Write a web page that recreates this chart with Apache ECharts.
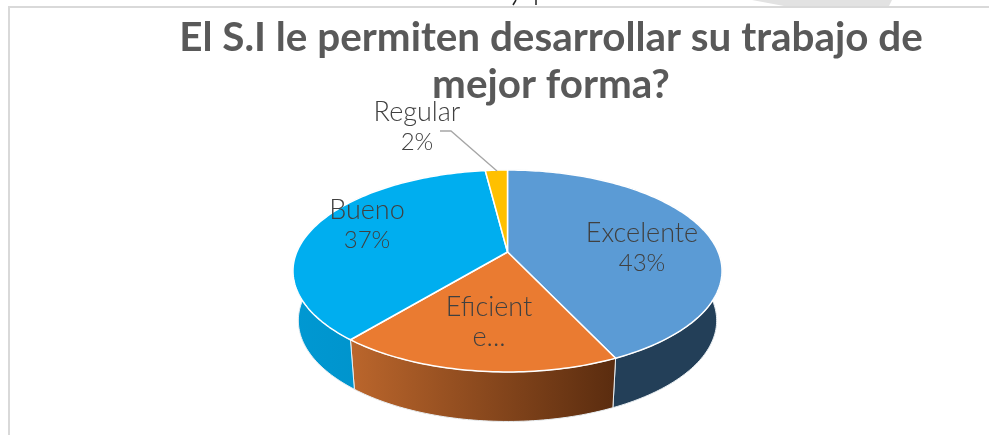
<!DOCTYPE html>
<html><head><meta charset="utf-8">
<style>html,body{margin:0;padding:0;background:#fff}#c{width:989px;height:435px}</style>
<script src="https://cdn.jsdelivr.net/npm/echarts@6/dist/echarts.min.js"></script>
</head><body><div id="c"></div>
<script>
const categories = ['Excelente', 'Eficiente', 'Bueno', 'Regular'];
const seriesValues = [43, 18, 37, 2];
const displayLabels = ['{n|Excelente}\n{p|43%}', '{n|Eficient}\n{n|e...}', '{n|Bueno}\n{p|37%}', '{n|Regular}\n{p|2%}'];
const titleText = 'El S.I le permiten desarrollar su trabajo de\nmejor forma?';

const FONT = 'Lato, "Open Sans", sans-serif';
const topColors = ['#5b9bd5', '#ea7b31', '#00aeef', '#ffc000'];
const hGrad = (a, b) => ({type:'linear',x:0,y:0,x2:1,y2:0,colorStops:[{offset:0,color:a},{offset:1,color:b}]});
const wallFills = ['#233f58', hGrad('#bb662c','#5a2c0f'), hGrad('#0098d2','#008dc2'), '#c79400'];
const labelCentres = [[642,248],[489,322],[367,225],[417,127.5]];

// perspective projection of the pie disc (unit circle -> screen)
const CX = 507.5, CY = 252, BX = 210.7, AY = 97.4, K = 0.188;
function rimTop(t){ const x=Math.sin(t), y=-Math.cos(t), d=1-K*y; return [CX+BX*x/d, CY+AY*y/d]; }
function rimBottom(t){ const p=rimTop(t); return [CX+(p[0]-CX)*0.975, p[1]+49.5]; }
const total = seriesValues.reduce((a,b)=>a+b,0);
function span(i){ let s=0; for(let j=0;j<i;j++) s+=seriesValues[j];
  return [s/total*2*Math.PI,(s+seriesValues[i])/total*2*Math.PI]; }
function arc(f,a,b){ const n=Math.max(4,Math.ceil((b-a)/0.02)),r=[]; for(let k=0;k<=n;k++) r.push(f(a+(b-a)*k/n)); return r; }

const seriesData = categories.map((name,i)=>({name,value:[seriesValues[i],i]}));
const labelRich = {
  n:{fontFamily:FONT,fontWeight:300,fontSize:27,lineHeight:30,fill:'#404040',color:'#404040',align:'center'},
  p:{fontFamily:FONT,fontWeight:300,fontSize:24,lineHeight:30,fill:'#404040',color:'#404040',align:'center'}
};

const option = {
  animation:false,
  backgroundColor:'#fff',
  title:{text:titleText,left:546,top:9,textAlign:'center',
    textStyle:{fontFamily:FONT,fontWeight:'bold',fontSize:40.4,lineHeight:47,color:'#595959'}},
  series:[
    {type:'custom',coordinateSystem:'none',z:1,silent:true,data:seriesData,
     renderItem(p,api){ const i=api.value(1),[a,b]=span(i);
       return {type:'polygon',shape:{points:arc(rimTop,a,b).concat(arc(rimBottom,a,b).reverse())},
         style:{fill:wallFills[i],stroke:'#e8eef2',lineWidth:1}}; }},
    {type:'custom',coordinateSystem:'none',z:2,silent:true,data:seriesData,
     renderItem(p,api){ const i=api.value(1),[a,b]=span(i);
       return {type:'polygon',shape:{points:[[CX,CY]].concat(arc(rimTop,a,b))},
         style:{fill:topColors[i],stroke:'#fff',lineWidth:1.5,lineJoin:'round'}}; }},
    {type:'custom',coordinateSystem:'none',z:3,silent:true,data:seriesData,
     renderItem(p,api){ const i=api.value(1),c=labelCentres[i];
       return {type:'text',x:c[0],y:c[1],style:{text:displayLabels[i],fill:'#404040',rich:labelRich,
         align:'center',verticalAlign:'middle'}}; }}
  ],
  graphic:[
    {type:'polygon',silent:true,z:0,shape:{points:[[752,0],[892,0],[889,6],[784,6]]},style:{fill:'#e2e2e2'}},
    {type:'line',silent:true,z:0,shape:{x1:8,y1:7,x2:989,y2:7},style:{stroke:'#d9d9d9',lineWidth:2}},
    {type:'line',silent:true,z:0,shape:{x1:9,y1:7,x2:9,y2:435},style:{stroke:'#d9d9d9',lineWidth:2}},
    {type:'polyline',silent:true,z:4,shape:{points:[[440,131],[451,131],[497,171]]},style:{stroke:'#a6a6a6',lineWidth:1.3,fill:null}},
    {type:'line',silent:true,z:4,shape:{x1:516,y1:0,x2:513,y2:5},style:{stroke:'#222',lineWidth:1.5}},
    {type:'line',silent:true,z:4,shape:{x1:536,y1:0,x2:536,y2:5},style:{stroke:'#222',lineWidth:1.5}}
  ]
};
echarts.init(document.getElementById('c'),null,{renderer:'canvas'}).setOption(option);
</script></body></html>
